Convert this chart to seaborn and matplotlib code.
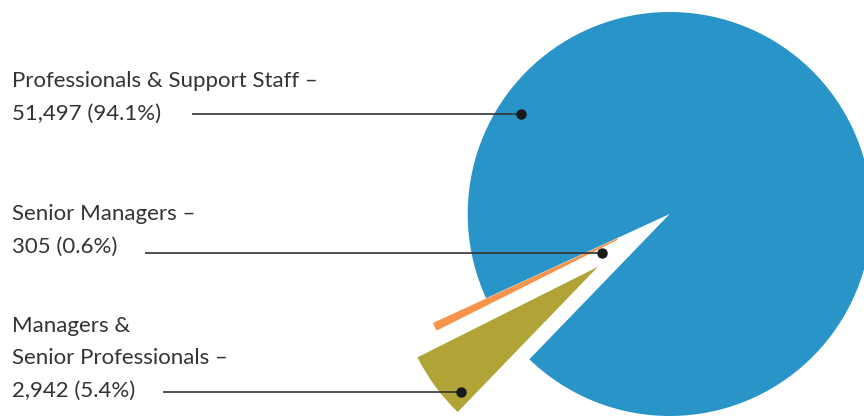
import matplotlib
matplotlib.use("Agg")
import matplotlib.pyplot as plt
import seaborn as sns

# ---- data ----
categories = ["Professionals & Support Staff", "Senior Managers", "Managers & Senior Professionals"]
counts = [51497, 305, 2942]
pct_labels = ["94.1%", "0.6%", "5.4%"]
colors = ["#2994C8", "#F5944A", "#B0A436"]

sns.set_theme(style="white")
plt.rcParams['font.family'] = ['Lato', 'DejaVu Sans']

W, H = 864, 417
fig = plt.figure(figsize=(W / 100, H / 100), dpi=100)
ax = fig.add_axes([0, 0, 1, 1])

cx, cy, R = 669.7, H - 214, 202
explode = [0.0, 58, 89]  # offsets in pixels (data units)
wedges, _ = ax.pie(counts, colors=colors, explode=explode, startangle=226.0,
                   counterclock=True, radius=R, center=(cx, cy),
                   wedgeprops=dict(linewidth=0))
# slightly thicken the tiny slice so it reads like the reference
wedges[1].set_edgecolor(colors[1])
wedges[1].set_linewidth(1.0)
ax.set_xlim(0, W)
ax.set_ylim(0, H)
ax.set_aspect('equal')
ax.axis('off')

txt_color = "#333333"
fs = 16

def fmt(n):
    return f"{n:,}"

label_lines = [
    ([f"{categories[0]} –", f"{fmt(counts[0])} ({pct_labels[0]})"], [87, 120]),
    (["Senior Managers –", f"{fmt(counts[1])} ({pct_labels[1]})"], [220, 253]),
    (["Managers &", "Senior Professionals –", f"{fmt(counts[2])} ({pct_labels[2]})"], [332, 364, 397]),
]
for lines, ys in label_lines:
    for s, yb in zip(lines, ys):
        ax.text(12, H - yb, s, fontsize=fs, color=txt_color, va='baseline', ha='left')

# leader lines: (start x, y, dot x)
leaders = [(192, 114, 521), (145, 253, 602), (163, 391.5, 460.5)]
for x0, y, x1 in leaders:
    ax.plot([x0, x1], [H - y, H - y], color="#333333", lw=1.2, solid_capstyle='butt')
    ax.plot([x1], [H - y], 'o', color="#1a1a1a", ms=6.5)

fig.savefig("out.png", dpi=100)
